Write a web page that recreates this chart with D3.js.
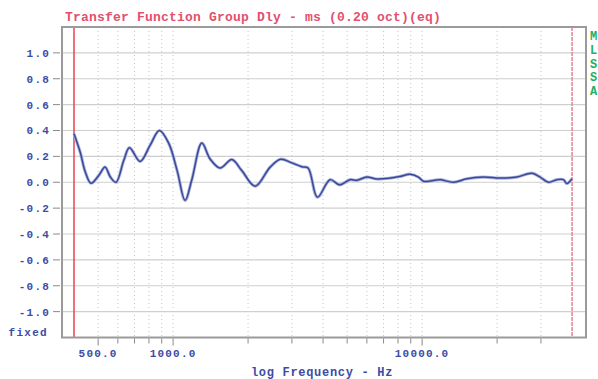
<!DOCTYPE html>
<html>
<head>
<meta charset="utf-8">
<script src="https://cdn.jsdelivr.net/npm/d3@7"></script>
<style>
  body { margin: 0; background: #fff; overflow: hidden; }
  svg { display: block; }
  text { font-family: "Liberation Mono", "DejaVu Sans Mono", monospace; font-weight: bold; }
</style>
</head>
<body>
<div id="chart"></div>
<script>
// measured group delay, ms
const freqHz = [400, 424, 444, 468, 503, 533, 560, 590, 634, 668, 737, 808, 881, 961,
  1038, 1117, 1189, 1304, 1408, 1545, 1721, 1887, 2135, 2453, 2700, 2997, 3288, 3484,
  3798, 4272, 4655, 5138, 5467, 5998, 6577, 7437, 8156, 8951, 9663, 10120, 11100, 11810,
  13360, 15120, 17630, 20580, 24010, 27580, 29780, 32150, 34750, 36940, 38120, 40000];
const delayMs = [0.375, 0.23, 0.08, -0.007, 0.053, 0.117, 0.04, 0.0, 0.17, 0.267, 0.161, 0.285, 0.40, 0.30,
  0.09, -0.14, 0.02, 0.303, 0.18, 0.11, 0.175, 0.09, -0.03, 0.117, 0.178, 0.15, 0.12, 0.11,
  -0.115, 0.02, -0.02, 0.02, 0.015, 0.04, 0.025, 0.032, 0.045, 0.062, 0.04, 0.008, 0.014, 0.02,
  0.0, 0.027, 0.04, 0.032, 0.04, 0.07, 0.04, 0.0, 0.02, 0.02, -0.01, 0.027];

const yTicks = [1.0, 0.8, 0.6, 0.4, 0.2, 0.0, -0.2, -0.4, -0.6, -0.8, -1.0];
const xLabelFreqs = [500, 1000, 10000];
const xGridFreqs = [500, 600, 700, 800, 900, 1000, 2000, 3000, 4000, 5000, 6000, 7000,
  8000, 9000, 10000, 20000, 30000];
const cursorFreqs = [400, 40000];
const sideLabels = ['M', 'L', 'S', 'S', 'A'];

const titleText = 'Transfer Function Group Dly - ms (0.20 oct)(eq)';
const xTitle = 'log Frequency - Hz';
const fixedText = 'fixed';

class DelayChart {
  constructor(el) {
    this.el = el;
    this.initVis();
  }

  initVis() {
    let vis = this;
    vis.W = 598;
    vis.H = 379;
    vis.margin = { top: 27, right: 12, bottom: 41.5, left: 62 };
    vis.width = vis.W - vis.margin.left - vis.margin.right;
    vis.height = vis.H - vis.margin.top - vis.margin.bottom;

    vis.svg = d3.select(vis.el).append('svg')
        .attr('width', vis.W)
        .attr('height', vis.H);

    vis.g = vis.svg.append('g')
        .attr('transform', `translate(${vis.margin.left},${vis.margin.top})`);

    vis.x = d3.scaleLog().domain([358, 45500]).range([0, vis.width]);
    vis.y = d3.scaleLinear().domain([-1.2, 1.2]).range([vis.height, 0]);

    vis.render();
  }

  render() {
    let vis = this;
    const blue = '#3c4ca6';

    // vertical dotted grid
    vis.g.append('g').selectAll('line')
        .data(xGridFreqs).join('line')
        .attr('x1', d => vis.x(d)).attr('x2', d => vis.x(d))
        .attr('y1', 0).attr('y2', vis.height)
        .attr('stroke', '#c4c4c4')
        .attr('stroke-dasharray', '1,3');

    // horizontal grid
    vis.g.append('g').selectAll('line')
        .data(yTicks).join('line')
        .attr('x1', 0).attr('x2', vis.width)
        .attr('y1', d => vis.y(d)).attr('y2', d => vis.y(d))
        .attr('stroke', '#cfcfcf')
        .attr('stroke-width', 1.2);

    // cursors
    vis.g.append('g').selectAll('line')
        .data(cursorFreqs).join('line')
        .attr('x1', d => vis.x(d)).attr('x2', d => vis.x(d))
        .attr('y1', 0).attr('y2', vis.height)
        .attr('stroke', (d, i) => i === 0 ? '#e8505e' : '#ec8896')
        .attr('stroke-width', 1.6)
        .attr('stroke-dasharray', (d, i) => i === 0 ? null : '4,1');

    // curve
    let line = d3.line()
        .x((d, i) => vis.x(freqHz[i]))
        .y(d => vis.y(d))
        .curve(d3.curveCatmullRom.alpha(0.5));

    vis.g.append('path')
        .datum(delayMs)
        .attr('d', line)
        .attr('fill', 'none')
        .attr('stroke', '#aab3dc')
        .attr('stroke-width', 3.2);

    vis.g.append('path')
        .datum(delayMs)
        .attr('d', line)
        .attr('fill', 'none')
        .attr('stroke', '#3a4898')
        .attr('stroke-width', 1.5);

    // frame
    vis.g.append('rect')
        .attr('width', vis.width).attr('height', vis.height)
        .attr('fill', 'none')
        .attr('stroke', '#9a9a9a')
        .attr('stroke-width', 2);

    // y axis ticks + labels
    let yAxis = vis.g.append('g');
    yAxis.selectAll('line')
        .data(yTicks).join('line')
        .attr('x1', -9).attr('x2', -2)
        .attr('y1', d => vis.y(d)).attr('y2', d => vis.y(d))
        .attr('stroke', '#8a8a8a');
    yAxis.selectAll('text')
        .data(yTicks).join('text')
        .attr('x', -12)
        .attr('y', d => vis.y(d))
        .attr('dy', '0.36em')
        .attr('text-anchor', 'end')
        .attr('font-size', 11)
        .attr('letter-spacing', 1.2)
        .attr('fill', blue)
        .text(d => d3.format('.1f')(d).replace('−', '-'));

    vis.g.append('text')
        .attr('x', -14).attr('y', vis.height - 1.5)
        .attr('text-anchor', 'end')
        .attr('font-size', 11)
        .attr('letter-spacing', 1.3)
        .attr('fill', blue)
        .text(fixedText);

    // x axis ticks + labels
    let xAxis = vis.g.append('g').attr('transform', `translate(0,${vis.height})`);
    xAxis.selectAll('line')
        .data(xGridFreqs).join('line')
        .attr('x1', d => vis.x(d)).attr('x2', d => vis.x(d))
        .attr('y1', 1).attr('y2', d => xLabelFreqs.includes(d) ? 8 : 6)
        .attr('stroke', '#8a8a8a');
    xAxis.selectAll('text')
        .data(xLabelFreqs).join('text')
        .attr('x', d => vis.x(d))
        .attr('y', 19)
        .attr('text-anchor', 'middle')
        .attr('font-size', 11)
        .attr('letter-spacing', 1.2)
        .attr('fill', blue)
        .text(d => d3.format('.1f')(d));

    vis.svg.append('text')
        .attr('x', 322).attr('y', 376)
        .attr('text-anchor', 'middle')
        .attr('font-size', 12)
        .attr('letter-spacing', 0.7)
        .attr('fill', blue)
        .text(xTitle);

    // title
    vis.svg.append('text')
        .attr('x', 65).attr('y', 21)
        .attr('font-size', 13)
        .attr('letter-spacing', 0.2)
        .attr('fill', '#e2506e')
        .text(titleText);

    // side legend letters (clipped at page edge)
    vis.svg.append('g').selectAll('text')
        .data(sideLabels).join('text')
        .attr('x', 590)
        .attr('y', (d, i) => 40 + i * 13.8)
        .attr('font-size', 12)
        .attr('fill', '#22b060')
        .text(d => d);
  }
}

new DelayChart('#chart');
</script>
</body>
</html>
